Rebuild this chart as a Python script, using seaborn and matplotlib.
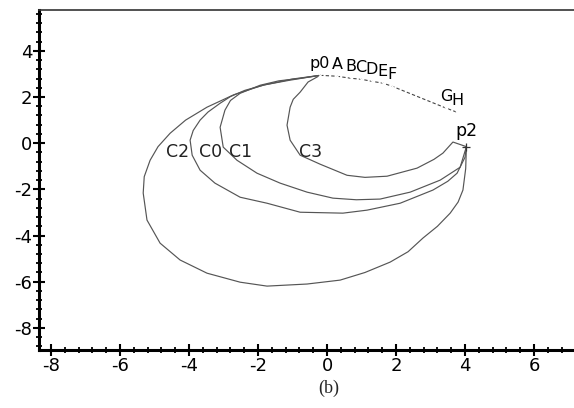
import seaborn as sns
import matplotlib.pyplot as plt
import pandas as pd
from matplotlib.ticker import MultipleLocator

# curvas (b): todas saem de p0 e chegam em p2
c2_x = [-0.20, -1.00, -1.86, -2.70, -3.48, -4.10, -4.55, -4.90, -5.13, -5.30, -5.33, -5.22, -4.84, -4.26, -3.48, -2.52, -1.74, -0.58, 0.38, 1.10, 1.83, 2.35, 2.78, 3.20, 3.57, 3.80, 3.94, 4.02, 4.04]
c2_y = [2.94, 2.78, 2.51, 2.10, 1.56, 1.00, 0.43, -0.15, -0.74, -1.45, -2.16, -3.33, -4.33, -5.06, -5.63, -6.02, -6.19, -6.10, -5.93, -5.60, -5.15, -4.70, -4.11, -3.60, -3.03, -2.55, -2.03, -1.10, -0.15]
c0_x = [-0.20, -1.07, -1.80, -2.38, -2.80, -3.10, -3.45, -3.68, -3.88, -3.97, -3.91, -3.68, -3.25, -2.52, -1.74, -0.78, 0.46, 1.16, 2.12, 3.07, 3.50, 3.77, 4.00, 4.04]
c0_y = [2.94, 2.73, 2.53, 2.29, 2.02, 1.73, 1.35, 1.00, 0.55, 0.13, -0.52, -1.17, -1.73, -2.34, -2.60, -2.99, -3.03, -2.90, -2.60, -2.03, -1.65, -1.30, -0.61, -0.15]
c1_x = [-0.20, -0.78, -1.40, -1.94, -2.52, -2.80, -2.96, -3.10, -3.01, -2.61, -2.03, -1.36, -0.58, 0.17, 0.85, 1.54, 2.41, 3.28, 3.86, 4.04]
c1_y = [2.94, 2.81, 2.70, 2.51, 2.16, 1.85, 1.43, 0.69, -0.17, -0.74, -1.30, -1.73, -2.12, -2.38, -2.45, -2.42, -2.12, -1.60, -1.04, -0.15]
c3_x = [-0.20, -0.55, -0.78, -0.98, -1.07, -1.16, -1.07, -0.78, -0.20, 0.58, 1.10, 1.74, 2.61, 3.10, 3.36, 3.65, 4.04]
c3_y = [2.94, 2.65, 2.21, 1.90, 1.56, 0.78, 0.13, -0.52, -0.91, -1.39, -1.48, -1.43, -1.08, -0.70, -0.43, 0.05, -0.15]

curve_names = ["C2", "C0", "C1", "C3"]
curve_label_x = [-4.32, -3.39, -2.52, -0.49]
curve_label_y = [-0.39, -0.39, -0.39, -0.39]

# pontos do arco de cima
arc_labels = ["p0", "A", "B", "C", "D", "E", "F", "G", "H"]
arc_x = [-0.20, 0.29, 0.70, 0.99, 1.30, 1.62, 1.88, 3.45, 3.77]
arc_y = [2.94, 2.90, 2.81, 2.77, 2.68, 2.60, 2.47, 1.52, 1.34]
p2_x, p2_y = 4.04, -0.15

sns.set_theme(style="white")
plt.rcParams['font.family'] = ['DejaVu Sans']
plt.rcParams['axes.unicode_minus'] = False

frames = []
for nome, xs, ys in [("C2", c2_x, c2_y), ("C0", c0_x, c0_y), ("C1", c1_x, c1_y), ("C3", c3_x, c3_y)]:
    frames.append(pd.DataFrame({"curva": nome, "ordem": range(len(xs)), "x": xs, "y": ys}))
df = pd.concat(frames, ignore_index=True)

fig = plt.figure(figsize=(5.74, 4.08), dpi=100)
ax = fig.add_axes([0.068, 0.142, 0.932, 0.833])

sns.lineplot(data=df, x="x", y="y", units="curva", estimator=None, sort=False,
             color="#555555", lw=0.85, ax=ax, legend=False)

arc = pd.DataFrame({"x": arc_x, "y": arc_y})
sns.lineplot(data=arc, x="x", y="y", sort=False, estimator=None, color="#444444",
             lw=0.8, ls=(0, (3, 2)), marker="x", markersize=3.5, mew=0.8, ax=ax)
ax.plot([p2_x], [p2_y], marker="+", color="#333333", ms=6, mew=0.9)

for lab, x, y in zip(arc_labels, arc_x, arc_y):
    ax.annotate(lab, (x, y), xytext=(0, 3), textcoords="offset points",
                ha="center", va="bottom", fontsize=11.5, color="black")
ax.annotate("p2", (p2_x, p2_y), xytext=(0, 5), textcoords="offset points",
            ha="center", va="bottom", fontsize=12.5, color="black")
for lab, x, y in zip(curve_names, curve_label_x, curve_label_y):
    ax.text(x, y, lab, ha="center", va="center", fontsize=12.5, color="#222222")

ax.set_xlim(-8.35, 7.16)
ax.set_ylim(-8.96, 5.76)
ax.xaxis.set_major_locator(MultipleLocator(2))
ax.yaxis.set_major_locator(MultipleLocator(2))
ax.xaxis.set_minor_locator(MultipleLocator(0.4))
ax.yaxis.set_minor_locator(MultipleLocator(0.4))
ax.tick_params(which="major", direction="inout", length=8, width=1.5, labelsize=13, pad=1, colors="black")
ax.tick_params(which="minor", direction="inout", length=5, width=1.3, colors="black")
ax.tick_params(axis="x", which="both", bottom=True)
ax.tick_params(axis="y", which="both", left=True)
for s in ["left", "bottom"]:
    ax.spines[s].set_linewidth(2.2)
    ax.spines[s].set_color("black")
ax.spines["top"].set_linewidth(1.2)
ax.spines["top"].set_color("#333333")
ax.spines["right"].set_visible(False)
ax.set_xlabel("")
ax.set_ylabel("")

fig.text(0.573, 0.049, "(b)", ha="center", va="center", fontsize=13, family="Liberation Serif")

plt.savefig("out.png", dpi=100)
